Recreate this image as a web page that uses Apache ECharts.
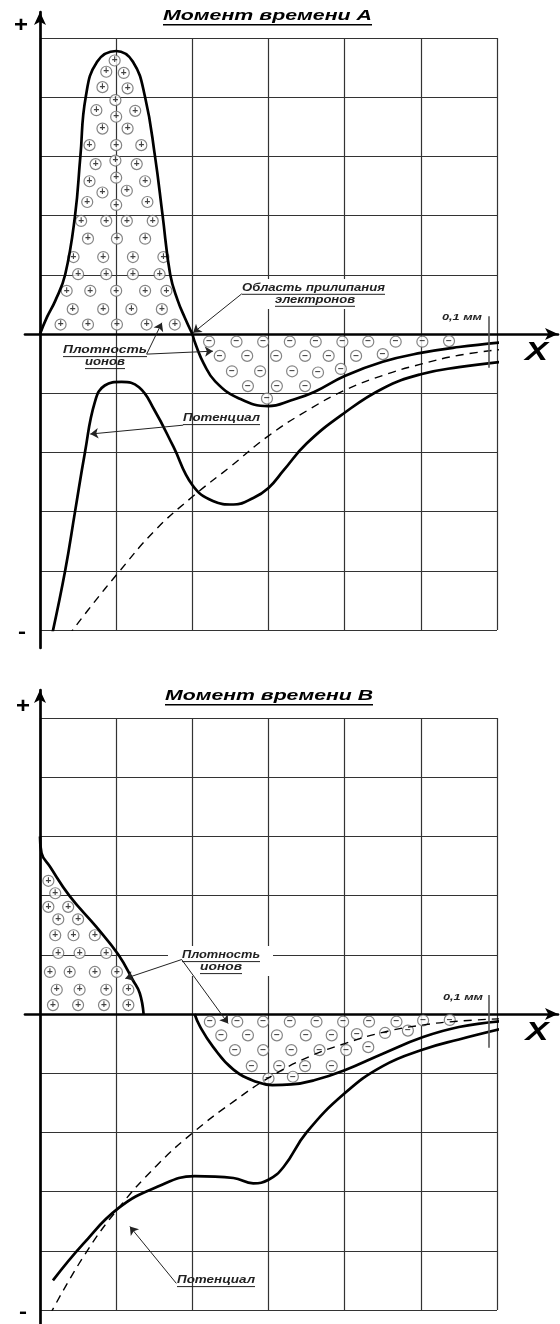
<!DOCTYPE html>
<html><head><meta charset="utf-8">
<script src="https://cdn.jsdelivr.net/npm/echarts@6/dist/echarts.min.js"></script>
<style>html,body{margin:0;padding:0;background:#fff}#c{width:560px;height:1324px}</style>
</head><body><div id="c"></div>
<script>
// ---------- DATA (panel A: "Момент времени А") ----------
const ionA = [[0,0],[0.09,0.28],[0.2,0.56],[0.33,1.0],[0.46,2.0],[0.53,3.0],[0.6,4.0],[0.75,4.6],[1.0,4.78],[1.22,4.6],[1.38,4.0],[1.51,3.0],[1.61,2.0],[1.71,1.0],[1.81,0.56],[1.9,0.28],[2.0,0]];
const electronA = [[2.0,0],[2.05,-0.2],[2.15,-0.5],[2.3,-0.8],[2.6,-1.08],[3.0,-1.22],[3.3,-1.12],[3.6,-0.98],[4.0,-0.71],[4.5,-0.47],[5.0,-0.32],[5.5,-0.22],[6.06,-0.14]];
const dashedA = [[0.37,-5.1],[0.7,-4.55],[1.01,-4.06],[1.5,-3.33],[2.0,-2.75],[2.5,-2.24],[3.0,-1.72],[3.5,-1.3],[4.0,-0.95],[4.5,-0.7],[5.0,-0.51],[5.5,-0.36],[6.06,-0.26]];
const potentialA = [[0.16,-5.07],[0.33,-4.0],[0.46,-3.0],[0.59,-2.0],[0.72,-1.15],[0.85,-0.87],[1.07,-0.81],[1.3,-0.9],[1.5,-1.28],[1.75,-1.9],[2.0,-2.55],[2.27,-2.82],[2.54,-2.88],[2.8,-2.77],[3.0,-2.6],[3.2,-2.3],[3.5,-1.85],[4.0,-1.33],[4.5,-0.92],[5.0,-0.68],[5.5,-0.56],[6.06,-0.47]];
const plusA = [[0.98,4.62],[0.87,4.43],[1.10,4.41],[0.82,4.17],[1.15,4.15],[0.99,3.95],[0.74,3.78],[1.0,3.67],[1.25,3.77],[0.82,3.47],[1.15,3.47],[0.65,3.19],[1.0,3.19],[1.33,3.19],[0.99,2.93],[0.73,2.87],[1.27,2.87],[0.65,2.58],[1.0,2.64],[1.38,2.58],[0.82,2.39],[1.14,2.42],[0.62,2.23],[1.0,2.18],[1.41,2.23],[0.54,1.91],[0.87,1.91],[1.14,1.91],[1.48,1.91],[0.63,1.61],[1.01,1.61],[1.38,1.61],[0.44,1.30],[0.83,1.30],[1.22,1.30],[1.62,1.30],[0.50,1.01],[0.87,1.01],[1.22,1.01],[1.57,1.01],[0.35,0.73],[0.66,0.73],[1.0,0.73],[1.38,0.73],[1.66,0.73],[0.43,0.42],[0.83,0.42],[1.20,0.42],[1.60,0.42],[0.27,0.16],[0.63,0.16],[1.01,0.16],[1.40,0.16],[1.77,0.16]];
const minusA = [[2.22,-0.13],[2.58,-0.13],[2.93,-0.13],[3.28,-0.13],[3.62,-0.13],[3.97,-0.13],[4.31,-0.13],[4.67,-0.13],[5.02,-0.13],[5.37,-0.12],[2.36,-0.37],[2.72,-0.37],[3.10,-0.37],[3.48,-0.37],[3.79,-0.37],[4.15,-0.37],[4.50,-0.34],[2.52,-0.63],[2.89,-0.63],[3.31,-0.63],[3.65,-0.65],[3.95,-0.59],[2.73,-0.88],[3.11,-0.88],[3.48,-0.88],[2.98,-1.09]];
const arrowsA = [[[1.40,-0.34],[1.60,0.19]],[[1.40,-0.34],[2.27,-0.29]],[[2.65,0.68],[2.01,0.02]],[[1.88,-1.54],[0.66,-1.69]]];
const scaleMarkA = [[5.89,0.30],[5.89,-0.57]];

// ---------- DATA (panel B: "Момент времени В") ----------
const ionB = [[0,3.0],[0.02,2.72],[0.13,2.49],[0.39,1.99],[0.74,1.47],[1.03,1.0],[1.22,0.57],[1.31,0.35],[1.36,0]];
const electronB = [[2.03,0],[2.1,-0.21],[2.27,-0.55],[2.54,-0.94],[2.85,-1.15],[3.05,-1.2],[3.3,-1.19],[3.6,-1.12],[4.0,-0.95],[4.5,-0.67],[5.03,-0.39],[5.5,-0.22],[6.06,-0.12]];
const dashedB = [[0.13,-5.08],[0.57,-4.1],[1.03,-3.28],[1.54,-2.55],[2.03,-1.98],[2.54,-1.48],[3.0,-1.08],[3.5,-0.74],[4.0,-0.5],[4.5,-0.31],[5.0,-0.19],[5.5,-0.12],[6.06,-0.08]];
const potentialB = [[0.17,-4.5],[0.57,-3.88],[1.03,-3.28],[1.54,-2.92],[2.03,-2.74],[2.54,-2.77],[2.8,-2.86],[3.0,-2.8],[3.2,-2.58],[3.5,-2.0],[4.0,-1.34],[4.5,-0.88],[5.03,-0.6],[5.5,-0.43],[6.06,-0.25]];
const plusB = [[0.11,2.25],[0.20,2.04],[0.11,1.81],[0.37,1.81],[0.24,1.60],[0.50,1.60],[0.20,1.33],[0.44,1.33],[0.72,1.33],[0.24,1.03],[0.52,1.03],[0.87,1.03],[0.13,0.71],[0.39,0.71],[0.72,0.71],[1.01,0.71],[0.22,0.41],[0.52,0.41],[0.87,0.41],[1.16,0.41],[0.17,0.15],[0.50,0.15],[0.84,0.15],[1.16,0.15]];
const minusB = [[2.23,-0.13],[2.59,-0.13],[2.93,-0.13],[3.28,-0.13],[3.63,-0.13],[3.98,-0.13],[4.32,-0.13],[4.68,-0.13],[5.03,-0.11],[5.38,-0.10],[2.38,-0.36],[2.73,-0.36],[3.11,-0.36],[3.49,-0.36],[3.83,-0.36],[4.16,-0.34],[4.53,-0.32],[4.83,-0.28],[2.56,-0.61],[2.93,-0.61],[3.30,-0.61],[3.67,-0.61],[4.02,-0.61],[4.31,-0.56],[2.78,-0.88],[3.14,-0.88],[3.48,-0.88],[3.83,-0.88],[3.0,-1.09],[3.32,-1.06]];
const arrowsB = [[[1.86,0.92],[1.12,0.60]],[[1.86,0.92],[2.47,-0.16]],[[1.79,-4.55],[1.18,-3.59]]];
const scaleMarkB = [[5.89,0.32],[5.89,-0.57]];

const xRange = [0, 6];   // grid columns
const yRange = [-5, 5];  // grid rows

// ---------- STYLE ----------
const FF = '"Liberation Sans", Arial, sans-serif';
const LW = 2.7;
const mctx = document.createElement('canvas').getContext('2d');
function textEl(text, cx, cy, size, width, o) {
  o = o || {};
  const font = (o.italic === false ? '' : 'italic ') + 'bold ' + size + 'px ' + FF;
  mctx.font = font;
  const w = mctx.measureText(text).width || 1;
  const col = o.color || '#000';
  const els = [];
  if (o.bg) els.push({type:'rect', z:1, shape:{x:o.bg[0], y:o.bg[1], width:o.bg[2], height:o.bg[3]}, style:{fill:'#fff'}});
  els.push({type:'text', x:cx, y:cy, scaleX: width / w, z:100,
    style:{text:text, x:0, y:0, font:font, fill:col, textAlign:'center', textVerticalAlign:'middle', verticalAlign:'middle'}});
  if (o.underline) {
    const uy = cy + size * 0.6;
    els.push({type:'line', z:100, shape:{x1:cx - width/2, y1:uy, x2:cx + width/2, y2:uy}, style:{stroke:col, lineWidth:o.ulw || 1}});
  }
  return els;
}

const gridLine = {show:true, lineStyle:{color:'#333', width:1.2}};
function dataX(i){return {gridIndex:i, type:'value', min:xRange[0], max:xRange[1], interval:1, axisLine:{show:false}, axisTick:{show:false}, axisLabel:{show:false}, splitLine:gridLine};}
function dataY(i){return {gridIndex:i, type:'value', min:yRange[0], max:yRange[1], interval:1, axisLine:{show:false}, axisTick:{show:false}, axisLabel:{show:false}, splitLine:gridLine};}
const arrowAxisLine = {show:true, onZero:false, symbol:['none','arrow'], symbolSize:[9,13], lineStyle:{color:'#000', width:LW}};
function arrowX(i){return {gridIndex:i, type:'value', min:0, max:1, position:'bottom', axisLine:arrowAxisLine, axisTick:{show:false}, axisLabel:{show:false}, splitLine:{show:false}};}
function arrowY(i){return {gridIndex:i, type:'value', min:0, max:1, position:'left', axisLine:arrowAxisLine, axisTick:{show:false}, axisLabel:{show:false}, splitLine:{show:false}};}
function hidden(i){return {gridIndex:i, type:'value', min:0, max:1, show:false};}

function curve(data, xi, dashed, extra) {
  return Object.assign({type:'line', xAxisIndex:xi, yAxisIndex:xi, data:data, smooth:0.45, symbol:'none', showSymbol:false, z:4,
    lineStyle:{color:'#000', width: dashed ? 1.4 : LW, type: dashed ? [8,6] : 'solid'}}, extra || {});
}
function charges(data, xi, sign) {
  return {type:'scatter', xAxisIndex:xi, yAxisIndex:xi, data:data, symbol:'circle', symbolSize:11, z:3,
    itemStyle:{color:'#fff', borderColor:'#666', borderWidth:1.2},
    label:{show:true, position:'inside', formatter:sign, fontSize:10, fontWeight:'bold', color:'#111', fontFamily:FF}};
}
function annotations(arrows, mark) {
  const d = arrows.map(a => [{coord:a[0]}, {coord:a[1]}]);
  d.push([{coord:mark[0], symbol:'none', lineStyle:{width:1.6, color:'#555'}}, {coord:mark[1], symbol:'none'}]);
  return {silent:true, symbol:['none','arrow'], symbolSize:8, label:{show:false}, animation:false,
    lineStyle:{color:'#222', width:1, type:'solid'}, emphasis:{disabled:true}, data:d};
}

const graphics = [].concat(
  textEl('Момент времени А', 267.5, 16, 14.5, 209, {underline:true, ulw:1.5}),
  textEl('+', 21, 26, 22, 14, {italic:false}),
  textEl('-', 22, 632, 20, 8, {italic:false}),
  textEl('X', 536.5, 353, 26, 23),
  textEl('Область прилипания', 313.5, 288, 10.5, 143, {underline:true, color:'#222', bg:[238,279,152,30]}),
  textEl('электронов', 315, 300, 10.5, 80, {underline:true, color:'#222'}),
  textEl('0,1 мм', 462, 318, 9, 40, {color:'#222'}),
  textEl('Плотность', 105, 350, 11, 84, {underline:true, color:'#222'}),
  textEl('ионов', 105, 362, 11, 40, {underline:true, color:'#222'}),
  textEl('Потенциал', 221.5, 418, 11, 77, {underline:true, color:'#222'}),

  textEl('Момент времени В', 269, 696, 14.5, 208, {underline:true, ulw:1.5}),
  textEl('+', 23, 707, 22, 14, {italic:false}),
  textEl('-', 23, 1312, 20, 8, {italic:false}),
  textEl('X', 537, 1033, 26, 23),
  textEl('0,1 мм', 463, 998, 9, 40, {color:'#222'}),
  textEl('Плотность', 221, 955, 11, 78, {underline:true, color:'#222', bg:[168,946,105,30]}),
  textEl('ионов', 221, 967, 11, 42, {underline:true, color:'#222'}),
  textEl('Потенциал', 216, 1280, 11, 78, {underline:true, color:'#222'})
);

const option = {
  animation:false,
  backgroundColor:'#fff',
  grid:[
    {left:40, top:38, width:457, height:592},
    {left:40, top:718, width:457, height:592},
    {left:25, top:301, width:533, height:33},
    {left:40, top:12, width:20, height:636},
    {left:25, top:980, width:533, height:34},
    {left:40, top:690, width:20, height:634}
  ],
  xAxis:[dataX(0), dataX(1), arrowX(2), hidden(3), arrowX(4), hidden(5)],
  yAxis:[dataY(0), dataY(1), hidden(2), arrowY(3), hidden(4), arrowY(5)],
  series:[
    charges(plusA, 0, '+'),
    charges(minusA, 0, '−'),
    curve(ionA, 0, false, {markLine: annotations(arrowsA, scaleMarkA)}),
    curve(electronA, 0, false),
    curve(dashedA, 0, true),
    curve(potentialA, 0, false),
    charges(plusB, 1, '+'),
    charges(minusB, 1, '−'),
    curve(ionB, 1, false, {markLine: annotations(arrowsB, scaleMarkB)}),
    curve(electronB, 1, false),
    curve(dashedB, 1, true),
    curve(potentialB, 1, false)
  ],
  graphic:{elements:graphics}
};
const chart = echarts.init(document.getElementById('c'), null, {renderer:'canvas'});
chart.setOption(option);
</script>
</body></html>
